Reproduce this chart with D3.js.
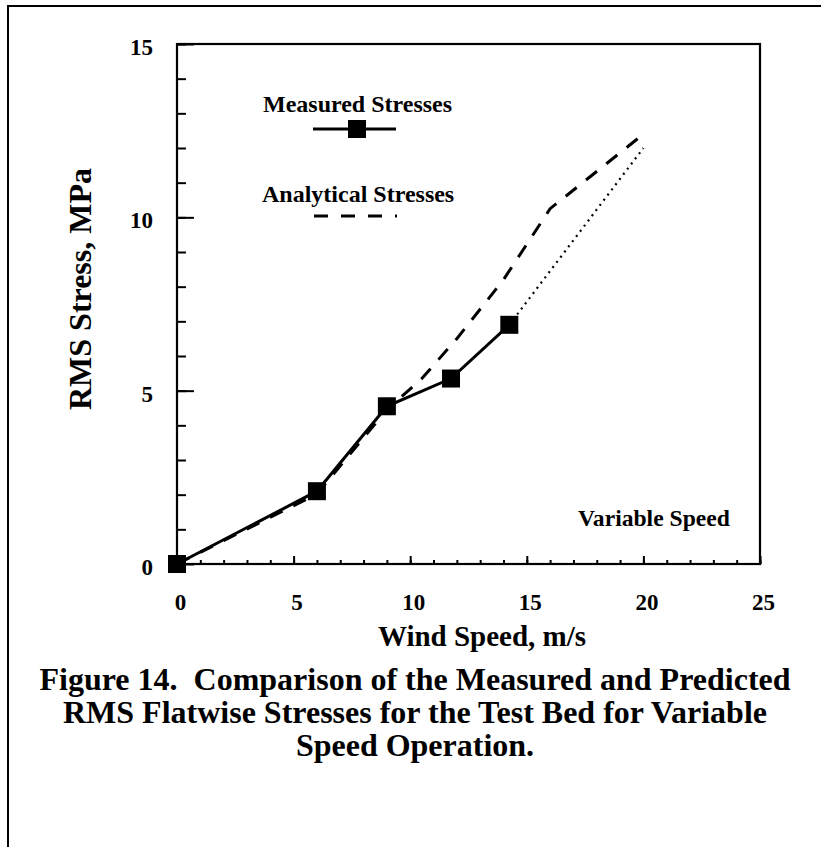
<!DOCTYPE html>
<html>
<head>
<meta charset="utf-8">
<script src="https://cdn.jsdelivr.net/npm/d3@7"></script>
<style>
  html, body { margin: 0; padding: 0; background: #fff; }
  svg text { font-family: "Liberation Serif", "Times New Roman", serif; font-weight: bold; fill: #000; }
</style>
</head>
<body>
<svg id="chart" width="821" height="847"></svg>
<script>
// ---- data ----
const xTickValues = [0, 5, 10, 15, 20, 25];
const yTickValues = [0, 5, 10, 15];
const measuredSpeed = [0, 6, 9, 11.75, 14.25];
const measuredStress = [0, 2.1, 4.55, 5.35, 6.9];
const analyticalSpeed = [0, 6, 9, 10.5, 12, 14, 16, 20];
const analyticalStress = [0, 2.02, 4.45, 5.35, 6.5, 8.2, 10.25, 12.4];
const extrapSpeed = [14.25, 20];
const extrapStress = [6.9, 12.0];
const legendLabels = ["Measured Stresses", "Analytical Stresses"];
const noteLabel = "Variable Speed";
const xTitle = "Wind Speed, m/s";
const yTitle = "RMS Stress, MPa";
const captionLines = [
  "Figure 14.  Comparison of the Measured and Predicted",
  "RMS Flatwise Stresses for the Test Bed for Variable",
  "Speed Operation."
];

const svg = d3.select("#chart");

// outer page frame (only top and left visible)
svg.append("rect").attr("x", 8).attr("y", 6).attr("width", 840).attr("height", 860)
  .attr("fill", "none").attr("stroke", "#000").attr("stroke-width", 2);

const x = d3.scaleLinear().domain([0, 25]).range([177, 760]);
const y = d3.scaleLinear().domain([0, 15]).range([564, 44]);

// minor ticks
svg.append("g").attr("transform", `translate(0,${y(0)})`)
  .call(d3.axisBottom(x).tickValues(d3.range(0, 26)).tickSizeInner(-4).tickSizeOuter(0).tickFormat(""))
  .call(g => g.select(".domain").remove())
  .selectAll("line").attr("stroke-width", 2);
svg.append("g").attr("transform", `translate(${x(0)},0)`)
  .call(d3.axisLeft(y).tickValues(d3.range(0, 16)).tickSizeInner(-9).tickSizeOuter(0).tickFormat(""))
  .call(g => g.select(".domain").remove())
  .selectAll("line").attr("stroke-width", 2);

// major ticks + labels
const xAxis = svg.append("g").attr("transform", `translate(0,${y(0)})`)
  .call(d3.axisBottom(x).tickValues(xTickValues).tickSizeInner(-8).tickSizeOuter(0).tickPadding(30))
  .call(g => g.select(".domain").remove());
xAxis.selectAll("line").attr("stroke-width", 2);
xAxis.selectAll("text").attr("font-size", 23).attr("dx", 3)
  .style("font-family", '"Liberation Serif", serif').style("font-weight", "bold");

const yAxis = svg.append("g").attr("transform", `translate(${x(0)},0)`)
  .call(d3.axisLeft(y).tickValues(yTickValues).tickSizeInner(-17).tickSizeOuter(0).tickPadding(24))
  .call(g => g.select(".domain").remove());
yAxis.selectAll("line").attr("stroke-width", 2);
yAxis.selectAll("text").attr("font-size", 23).attr("dy", "0.45em")
  .style("font-family", '"Liberation Serif", serif').style("font-weight", "bold");

// plot frame
svg.append("rect").attr("x", x(0)).attr("y", y(15))
  .attr("width", x(25) - x(0)).attr("height", y(0) - y(15))
  .attr("fill", "none").attr("stroke", "#000").attr("stroke-width", 2.2);

const line = d3.line().x(d => x(d[0])).y(d => y(d[1]));
const measured = measuredSpeed.map((v, i) => [v, measuredStress[i]]);
const analytical = analyticalSpeed.map((v, i) => [v, analyticalStress[i]]);
const extrap = extrapSpeed.map((v, i) => [v, extrapStress[i]]);

svg.append("path").datum(analytical).attr("d", line)
  .attr("fill", "none").attr("stroke", "#000").attr("stroke-width", 3)
  .attr("stroke-dasharray", "14,12");
svg.append("path").datum(extrap).attr("d", line)
  .attr("fill", "none").attr("stroke", "#000").attr("stroke-width", 2.2)
  .attr("stroke-dasharray", "2,4.5");
svg.append("path").datum(measured).attr("d", line)
  .attr("fill", "none").attr("stroke", "#000").attr("stroke-width", 3);

const sq = 18;
svg.append("g").selectAll("rect").data(measured).join("rect")
  .attr("x", d => x(d[0]) - sq / 2).attr("y", d => y(d[1]) - sq / 2)
  .attr("width", sq).attr("height", sq).attr("fill", "#000");

// legend
svg.append("text").attr("x", 263).attr("y", 112).attr("font-size", 24).text(legendLabels[0]);
svg.append("line").attr("x1", 313).attr("x2", 396).attr("y1", 129).attr("y2", 129)
  .attr("stroke", "#000").attr("stroke-width", 3);
svg.append("rect").attr("x", 357 - sq / 2).attr("y", 129 - sq / 2).attr("width", sq).attr("height", sq).attr("fill", "#000");
svg.append("text").attr("x", 262).attr("y", 202).attr("font-size", 24).text(legendLabels[1]);
svg.append("line").attr("x1", 314).attr("x2", 397).attr("y1", 216).attr("y2", 216)
  .attr("stroke", "#000").attr("stroke-width", 3).attr("stroke-dasharray", "14,13");

svg.append("text").attr("x", 578).attr("y", 526).attr("font-size", 23.6).text(noteLabel);

// axis titles
svg.append("text").attr("x", 482).attr("y", 646).attr("font-size", 29)
  .attr("text-anchor", "middle").text(xTitle);
svg.append("text").attr("transform", "translate(91,289) rotate(-90)")
  .attr("font-size", 32).attr("text-anchor", "middle").text(yTitle);

// caption
svg.append("g").selectAll("text").data(captionLines).join("text")
  .attr("x", 415).attr("y", (d, i) => 690 + i * 33)
  .attr("font-size", 32).attr("text-anchor", "middle")
  .style("white-space", "pre").text(d => d);
</script>
</body>
</html>
